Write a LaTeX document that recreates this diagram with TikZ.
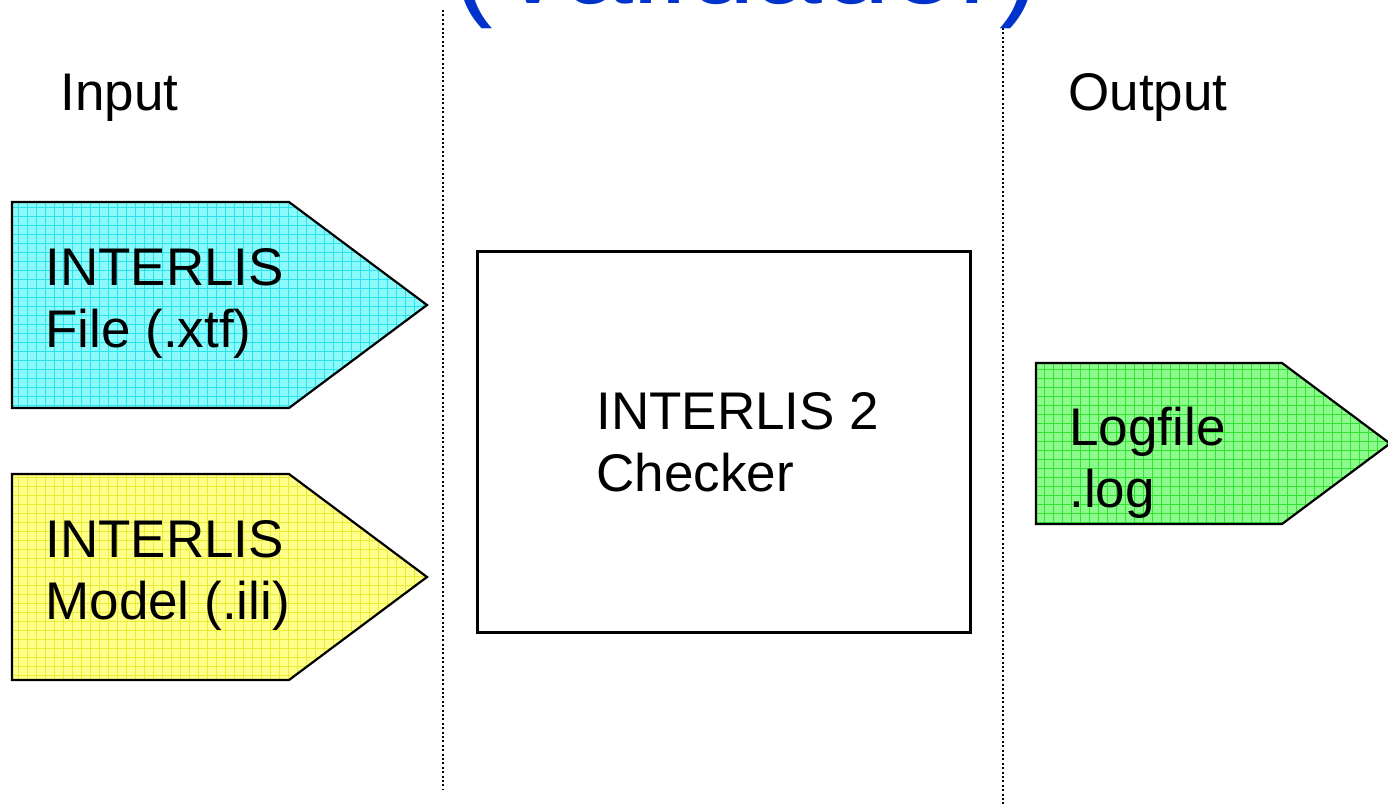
\documentclass[tikz,border=0pt]{standalone}
\usepackage{fontspec}
\setmainfont{Liberation Sans}
\definecolor{cyanbase}{RGB}{140,250,250}
\definecolor{cyanline}{RGB}{40,228,238}
\definecolor{yelbase}{RGB}{255,255,140}
\definecolor{yelline}{RGB}{235,235,50}
\definecolor{grnbase}{RGB}{140,250,140}
\definecolor{grnline}{RGB}{50,228,50}
\definecolor{titleblue}{RGB}{0,51,204}
\tikzset{
  lbl/.style={anchor=base west, inner sep=0pt, font=\fontsize{26.5}{31}\selectfont},
  outline/.style={draw=black, line width=1.1pt, line join=miter},
  gridl/.style={line width=0.35pt},
  divider/.style={draw=black, line width=1pt, dash pattern=on 1pt off 1.2pt},
}
\begin{document}
\begin{tikzpicture}[x=0.5pt,y=-0.5pt]
\useasboundingbox (0,0) rectangle (1388,805);
\clip (0,0) rectangle (1388,805);
\fill[white] (0,0) rectangle (1388,805);
% dividers
\coordinate (d1t) at (443,10); \coordinate (d1b) at (443,790);
\coordinate (d2t) at (1003,28); \coordinate (d2b) at (1003,805);
\draw[divider] (d1t) -- (d1b);
\draw[divider] (d2t) -- (d2b);
% title
\node[anchor=base, inner sep=0pt, text=titleblue, font=\fontsize{61}{66}\selectfont] (title) at (746,3) {(Validador)};
% cyan shape
\begin{scope}
\clip (12,202) -- (289,202) -- (427,305) -- (289,408) -- (12,408) -- cycle;
\fill[cyanbase] (0,190) rectangle (440,420);
\draw[gridl, cyanline] (12,202) grid[step=4.5pt] (430,410);
\end{scope}
\draw[outline] (12,202) -- (289,202) -- (427,305) -- (289,408) -- (12,408) -- cycle;
% yellow shape
\begin{scope}
\clip (12,474) -- (289,474) -- (427,577) -- (289,680) -- (12,680) -- cycle;
\fill[yelbase] (0,460) rectangle (440,690);
\draw[gridl, yelline] (12,474) grid[step=4.5pt] (430,682);
\end{scope}
\draw[outline] (12,474) -- (289,474) -- (427,577) -- (289,680) -- (12,680) -- cycle;
% green shape
\begin{scope}
\clip (1036,363) -- (1282,363) -- (1390,443.5) -- (1282,524) -- (1036,524) -- cycle;
\fill[grnbase] (1030,355) rectangle (1395,530);
\draw[gridl, grnline] (1036,363) grid[step=4.5pt] (1395,526);
\end{scope}
\draw[outline] (1036,363) -- (1282,363) -- (1390,443.5) -- (1282,524) -- (1036,524) -- cycle;
% checker box
\draw[draw=black, line width=1.5pt] (477,251) rectangle (970,632);
% labels
\node[lbl] (input) at (60,110) {Input};
\node[lbl] (output) at (1068,110) {Output};
\node[lbl] (f1) at (45,285) {INTERLIS};
\node[lbl] (f2) at (45,347) {File (.xtf)};
\node[lbl] (m1) at (45,557) {INTERLIS};
\node[lbl] (m2) at (45,619) {Model (.ili)};
\node[lbl] (c1) at (596,429) {INTERLIS 2};
\node[lbl] (c2) at (596,491) {Checker};
\node[lbl] (l1) at (1069,445) {Logfile};
\node[lbl] (l2) at (1069,507) {.log};
\end{tikzpicture}
\end{document}
